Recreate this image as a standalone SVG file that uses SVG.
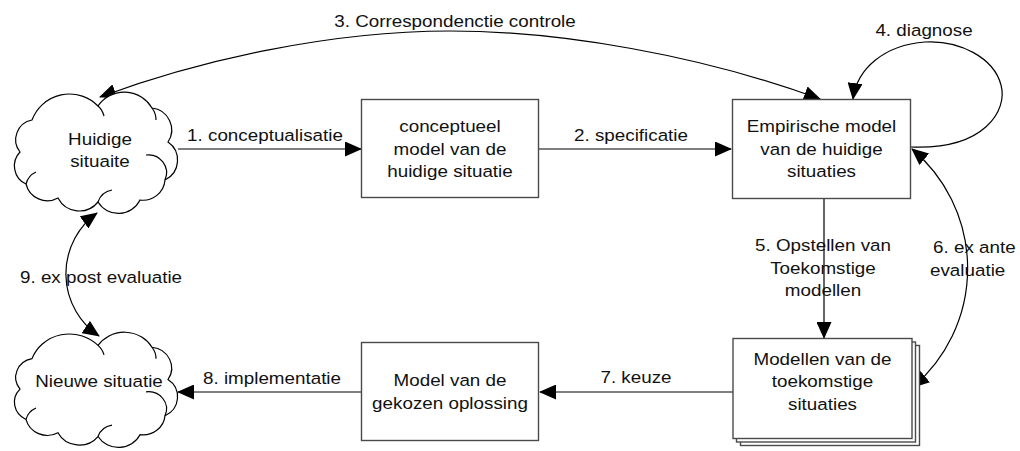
<svg xmlns="http://www.w3.org/2000/svg" width="1020" height="451" viewBox="0 0 1020 451">
  <defs>
    <style>
      .box { fill: #ffffff; stroke: #4a4a4a; stroke-width: 1.4; }
      .cloud { fill: #ffffff; stroke: #000000; stroke-width: 1.2; }
      .inner { fill: none; stroke: #000000; stroke-width: 1.2; }
      .edge { fill: none; stroke: #000000; stroke-width: 1.2; }
      .one { marker-end: url(#head); }
      .two { marker-start: url(#head); marker-end: url(#head); }
      text { font-family: "Liberation Sans", Arial, sans-serif; font-size: 16.8px; fill: #111111; text-anchor: middle; }
    </style>
    <marker id="head" markerUnits="userSpaceOnUse" viewBox="0 0 17 15" refX="16" refY="7.5" markerWidth="17" markerHeight="15" orient="auto-start-reverse">
      <path d="M0,0 L17,7.5 L0,15 z" fill="#000000"/>
    </marker>
    <!-- scalloped cloud outline, drawn for the box 12..177 x 93..213 -->
    <g id="cloudShape">
      <path class="cloud" d="M32,120 A40,40 0 0 1 98,106 A32,32 0 0 1 152,108 A22,22 0 0 1 168,142 A22,22 0 0 1 165,180 A22,22 0 0 1 140,200 A24,24 0 0 1 98,202 A24,24 0 0 1 58,198 A22,22 0 0 1 26,184 A20,20 0 0 1 20,152 A20,20 0 0 1 32,120 Z"/>
      <path class="inner" d="M98,106 A20,20 0 0 1 104,116"/>
      <path class="inner" d="M152,108 A20,20 0 0 1 156,120"/>
      <path class="inner" d="M146,155 A18,18 0 0 1 165,180"/>
      <path class="inner" d="M98,202 A18,18 0 0 1 112,190"/>
      <path class="inner" d="M26,184 A18,18 0 0 1 36,172"/>
    </g>
  </defs>

  <!-- connectors -->
  <g id="connectors">
    <path id="e1" class="edge one" d="M178,149 L361,149"/>
    <path id="e2" class="edge one" d="M539,149 L731,149"/>
    <path id="e3" class="edge two" d="M820,99 C700,55 560,31 450,31 C330,31 200,60 100,97"/>
    <path id="e4" class="edge one" d="M911,147 C985,150 1008,110 1001,85 C994,58 960,40 925,42 C885,45 857,68 853,99"/>
    <path id="e5" class="edge one" d="M824,199 L824,338"/>
    <path id="e6" class="edge two" d="M912,149 A156,156 0 0 1 913,387"/>
    <path id="e7" class="edge one" d="M733,392 L540,392"/>
    <path id="e8" class="edge one" d="M361,392 L178,392"/>
    <path id="e9" class="edge two" d="M97,213 A75,75 0 0 0 99,336"/>

    <text transform="translate(455,0) scale(1.12,1)" x="0" y="27">3. Correspondenctie controle</text>
    <text transform="translate(924,0) scale(1.12,1)" x="0" y="36">4. diagnose</text>
    <text transform="translate(265,0) scale(1.12,1)" x="0" y="141">1. conceptualisatie</text>
    <text transform="translate(631,0) scale(1.12,1)" x="0" y="141">2. specificatie</text>
    <text transform="translate(823,0) scale(1.12,1)"><tspan x="0" y="251.5">5. Opstellen van</tspan><tspan x="0" y="274">Toekomstige</tspan><tspan x="0" y="296.5">modellen</tspan></text>
    <text transform="translate(971,0) scale(1.12,1)"><tspan x="3" y="253">6. ex ante</tspan><tspan x="-3" y="276">evaluatie</tspan></text>
    <text transform="translate(636,0) scale(1.12,1)" x="0" y="383">7. keuze</text>
    <text transform="translate(272,0) scale(1.12,1)" x="0" y="384">8. implementatie</text>
    <text transform="translate(101,0) scale(1.12,1)" x="0" y="283">9. ex post evaluatie</text>
  </g>

  <!-- nodes -->
  <g id="huidige">
    <use href="#cloudShape"/>
    <text transform="translate(100,0) scale(1.12,1)"><tspan x="0" y="145">Huidige</tspan><tspan x="0" y="167.5">situaite</tspan></text>
  </g>

  <g id="nieuwe">
    <g transform="translate(12,333) scale(1,0.95) translate(-12,-93)">
      <use href="#cloudShape"/>
    </g>
    <text transform="translate(99,0) scale(1.12,1)" x="0" y="387">Nieuwe situatie</text>
  </g>

  <g id="conceptueel">
    <rect class="box" x="361.5" y="99.5" width="177" height="98"/>
    <text transform="translate(450,0) scale(1.12,1)"><tspan x="0" y="132">conceptueel</tspan><tspan x="0" y="155">model van de</tspan><tspan x="0" y="177">huidige situatie</tspan></text>
  </g>

  <g id="empirisch">
    <rect class="box" x="732.5" y="99.5" width="178" height="99"/>
    <text transform="translate(821.5,0) scale(1.12,1)"><tspan x="0" y="132">Empirische model</tspan><tspan x="0" y="155">van de huidige</tspan><tspan x="0" y="177">situaties</tspan></text>
  </g>

  <g id="toekomst">
    <rect class="box" x="740.5" y="345.5" width="179" height="100"/>
    <rect class="box" x="736.5" y="342" width="179" height="100"/>
    <rect class="box" x="733" y="338.5" width="179" height="100"/>
    <text transform="translate(822.5,0) scale(1.12,1)"><tspan x="0" y="365">Modellen van de</tspan><tspan x="0" y="387.5">toekomstige</tspan><tspan x="0" y="410">situaties</tspan></text>
  </g>

  <g id="gekozen">
    <rect class="box" x="361.5" y="342.5" width="177" height="98"/>
    <text transform="translate(450,0) scale(1.12,1)"><tspan x="0" y="386">Model van de</tspan><tspan x="0" y="408.5">gekozen oplossing</tspan></text>
  </g>
</svg>
